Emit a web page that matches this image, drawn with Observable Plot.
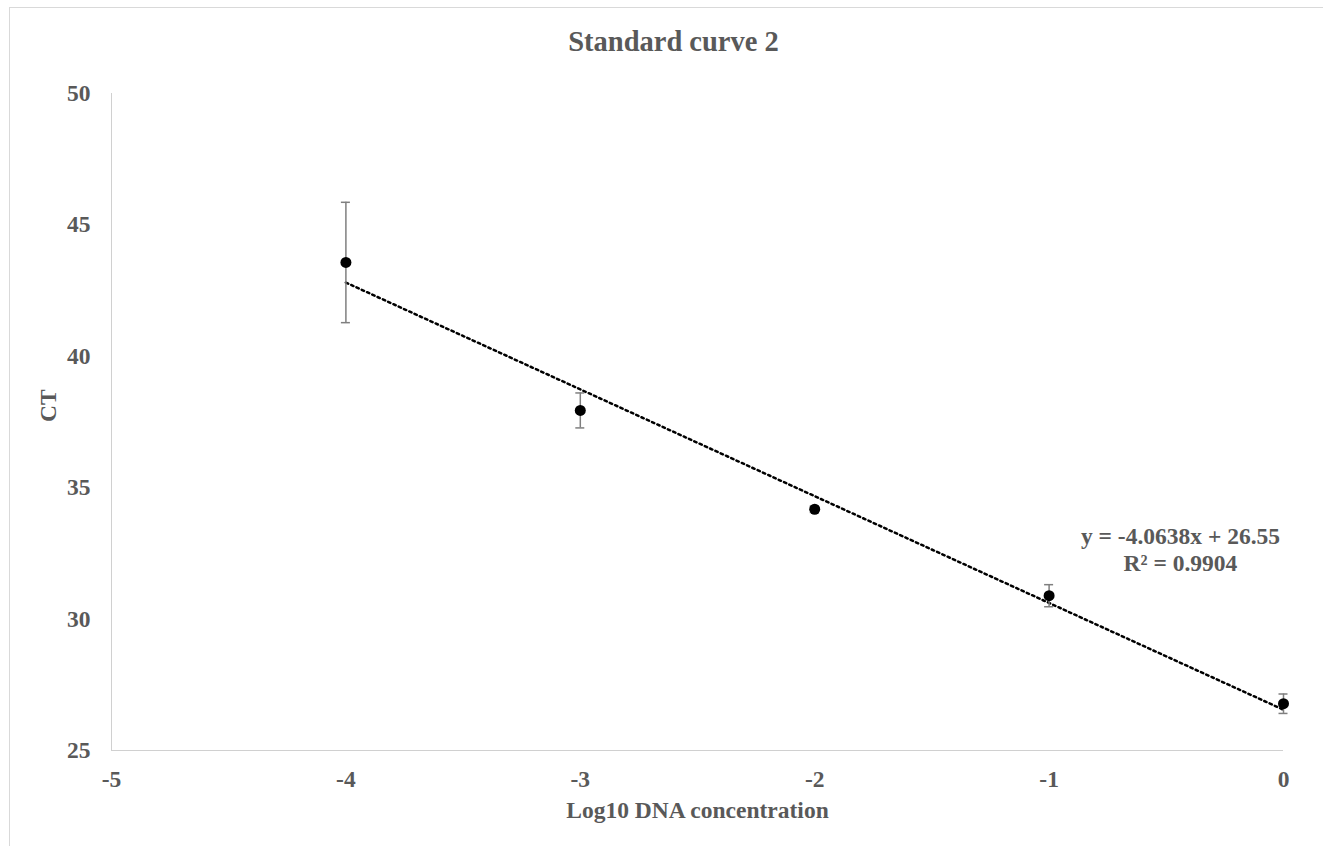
<!DOCTYPE html>
<html>
<head>
<meta charset="utf-8">
<script src="https://cdn.jsdelivr.net/npm/d3@7"></script>
<script src="https://cdn.jsdelivr.net/npm/@observablehq/plot@0.6"></script>
<style>
  html, body { margin: 0; padding: 0; background: #fff; overflow: hidden; width: 1323px; height: 846px; }
  #box { position: absolute; left: 9px; top: 7px; width: 2000px; height: 2000px; border: 1px solid #d9d9d9; box-sizing: border-box; }
  #chart { position: absolute; left: 0; top: 0; }
</style>
</head>
<body>
<div id="box"></div>
<div id="chart"></div>
<script>
const titleText = "Standard curve 2";
const xLabel = "Log10 DNA concentration";
const yLabel = "CT";
const logConc = [-4, -3, -2, -1, 0];
const ctMean = [43.57, 37.94, 34.18, 30.89, 26.78];
const ctErr = [2.29, 0.665, 0.12, 0.42, 0.37];
const xTicks = [-5, -4, -3, -2, -1, 0];
const yTicks = [25, 30, 35, 40, 45, 50];
const trendSlope = -4.0638;
const trendIntercept = 26.55;
const trendRange = [-4, 0];
const eqLines = ["y = -4.0638x + 26.55", "R² = 0.9904"];
const eqAnchor = [-0.4395, 32.66];

const data = logConc.map((x, i) => ({x, y: ctMean[i], lo: ctMean[i] - ctErr[i], hi: ctMean[i] + ctErr[i]}));
const trend = trendRange.map(x => ({x, y: trendSlope * x + trendIntercept}));
const gray = "#595959";

const plot = Plot.plot({
  width: 1323,
  height: 846,
  marginLeft: 111,
  marginRight: 40,
  marginTop: 93,
  marginBottom: 96,
  style: {fontFamily: "'Liberation Serif', 'Times New Roman', serif", fontWeight: "bold", fontSize: "23.5px", color: gray, background: "transparent"},
  x: {domain: [-5, 0]},
  y: {domain: [25, 50]},
  marks: [
    Plot.ruleY([25], {stroke: "#d0d0d0", strokeWidth: 1}),
    Plot.ruleX([-5], {stroke: "#d0d0d0", strokeWidth: 1}),
    Plot.axisX({ticks: xTicks, tickSize: 0, tickPadding: 20, tickFormat: d => String(d), label: null, fill: gray, fontSize: 23.5}),
    Plot.axisY({ticks: yTicks, tickSize: 0, tickPadding: 21, label: null, fill: gray, fontSize: 23.5}),
    Plot.line(trend, {x: "x", y: "y", stroke: "black", strokeWidth: 2.5, strokeDasharray: "2.5 3.3"}),
    Plot.ruleX(data, {x: "x", y1: "lo", y2: "hi", stroke: "#7f7f7f", strokeWidth: 1.5}),
    Plot.ruleY(data, {y: "hi", x1: "x", x2: "x", insetLeft: -4.5, insetRight: -4.5, stroke: "#7f7f7f", strokeWidth: 1.5}),
    Plot.ruleY(data, {y: "lo", x1: "x", x2: "x", insetLeft: -4.5, insetRight: -4.5, stroke: "#7f7f7f", strokeWidth: 1.5}),
    Plot.dot(data, {x: "x", y: "y", r: 5.5, fill: "black", stroke: "none"}),
    Plot.text([eqLines.join("\n")], {x: () => eqAnchor[0], y: () => eqAnchor[1], text: d => d, textAnchor: "middle", lineAnchor: "middle", lineHeight: 1.13, fill: gray, fontSize: 23.5}),
    Plot.text([titleText], {frameAnchor: "top", lineAnchor: "middle", dx: -24, dy: -52, text: d => d, fontSize: 28.5, fill: gray}),
    Plot.text([xLabel], {frameAnchor: "bottom", lineAnchor: "middle", dy: 60, text: d => d, fontSize: 23.5, fill: gray}),
    Plot.text([yLabel], {frameAnchor: "left", lineAnchor: "middle", dx: -63, rotate: -90, text: d => d, fontSize: 23.5, fill: gray})
  ]
});
document.getElementById("chart").appendChild(plot);
</script>
</body>
</html>
